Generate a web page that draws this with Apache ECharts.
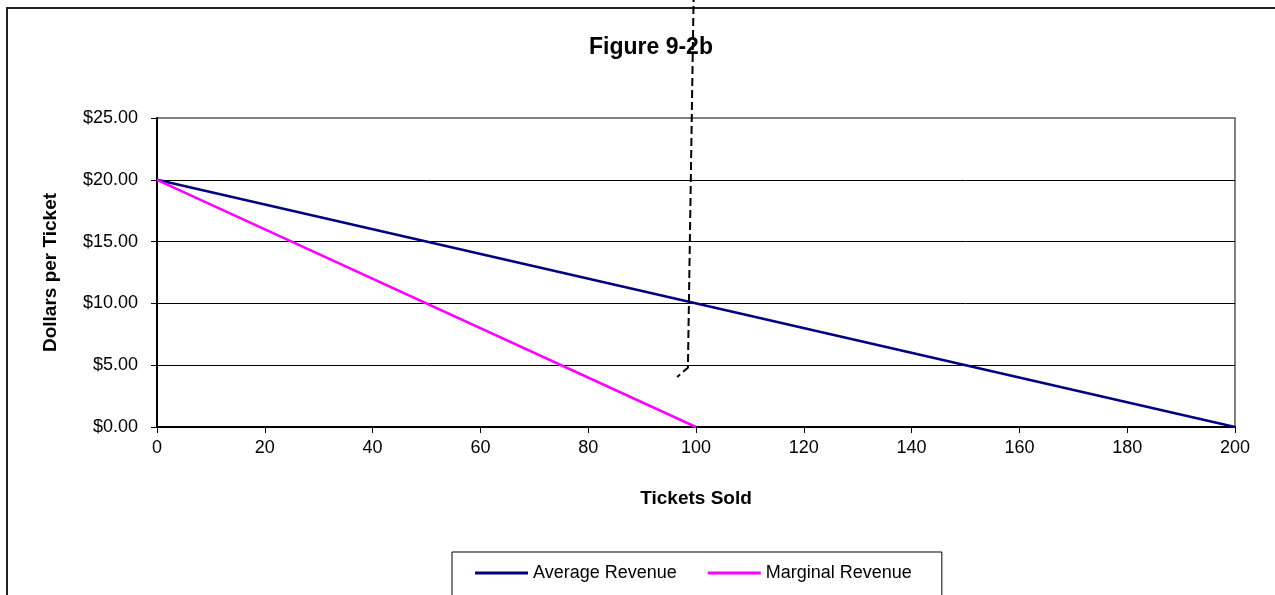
<!DOCTYPE html>
<html>
<head>
<meta charset="utf-8">
<title>Figure 9-2b</title>
<script src="https://cdn.jsdelivr.net/npm/echarts@6/dist/echarts.min.js"></script>
<style>
    html, body { margin: 0; padding: 0; background: #fff; }
    #chart { width: 1275px; height: 595px; }
</style>
</head>
<body>
<div id="chart"></div>
<script>
    // tickets sold -> dollars per ticket
    const avgRevenue = [[0, 20], [200, 0]];
    const marginalRevenue = [[0, 20], [100, 0]];
    // hand-drawn dashed marker, in data units (runs off the top of the frame)
    const dashedMarker = [[99.6, 36], [98.5, 4.8], [96.5, 4.05]];

    const seriesNames = ['Average Revenue', 'Marginal Revenue'];
    const yTicks = [0, 5, 10, 15, 20, 25];
    const xTicks = [0, 20, 40, 60, 80, 100, 120, 140, 160, 180, 200];

    const font = 'Liberation Sans, Arial, sans-serif';
    let myChart = echarts.init(document.getElementById('chart'));

    let option = {
        animation: false,
        title: {
            text: 'Figure 9-2b',
            left: 584,
            top: 31,
            textStyle: { fontFamily: font, fontSize: 23, fontWeight: 'bold', color: '#000' }
        },
        graphic: [
            {
                type: 'rect',
                shape: { x: 7, y: 8, width: 1400, height: 700 },
                style: { fill: 'none', stroke: '#222', lineWidth: 2 },
                silent: true,
                z: -1
            }
        ],
        legend: {
            data: seriesNames,
            left: 452,
            top: 552,
            padding: [12, 30, 24, 23],
            itemGap: 31,
            itemWidth: 53,
            itemHeight: 3,
            icon: 'rect',
            borderColor: '#000',
            borderWidth: 1,
            textStyle: { fontFamily: font, fontSize: 18, color: '#000' }
        },
        grid: {
            left: 157,
            right: 40,
            top: 118,
            bottom: 168,
            show: true,
            borderColor: '#808080',
            borderWidth: 2
        },
        xAxis: {
            type: 'value',
            min: xTicks[0],
            max: xTicks[xTicks.length - 1],
            interval: 20,
            name: 'Tickets Sold',
            nameLocation: 'middle',
            nameGap: 62,
            nameTextStyle: { fontFamily: font, fontSize: 19, fontWeight: 'bold', color: '#000' },
            axisLine: { lineStyle: { color: '#000', width: 2 } },
            axisTick: { show: true, length: 6, lineStyle: { color: '#000' } },
            axisLabel: { margin: 12, fontFamily: font, fontSize: 18, color: '#000' },
            splitLine: { show: false }
        },
        yAxis: {
            type: 'value',
            min: yTicks[0],
            max: yTicks[yTicks.length - 1],
            interval: 5,
            name: 'Dollars per Ticket',
            nameLocation: 'middle',
            nameGap: 97,
            nameTextStyle: { fontFamily: font, fontSize: 19, fontWeight: 'bold', color: '#000' },
            axisLine: { show: true, lineStyle: { color: '#000', width: 2 } },
            axisTick: { show: true, length: 6, lineStyle: { color: '#000' } },
            axisLabel: {
                margin: 19,
                fontFamily: font,
                fontSize: 18,
                color: '#000',
                formatter: v => '$' + v.toFixed(2)
            },
            splitLine: {
                show: true,
                lineStyle: { color: ['#000', '#000', '#000', '#000', '#000', '#808080'], width: 1 }
            }
        },
        series: [
            {
                name: seriesNames[0],
                type: 'line',
                data: avgRevenue,
                symbol: 'none',
                lineStyle: { color: '#000080', width: 2.5 },
                itemStyle: { color: '#000080' },
                z: 3
            },
            {
                name: seriesNames[1],
                type: 'line',
                data: marginalRevenue,
                symbol: 'none',
                lineStyle: { color: '#ff00ff', width: 2.5 },
                itemStyle: { color: '#ff00ff' },
                z: 3
            },
            {
                name: 'marker',
                type: 'line',
                data: dashedMarker,
                symbol: 'none',
                clip: false,
                silent: true,
                lineStyle: { color: '#000', width: 2, type: [8, 4] },
                z: 4
            }
        ]
    };

    myChart.setOption(option);
</script>
</body>
</html>
